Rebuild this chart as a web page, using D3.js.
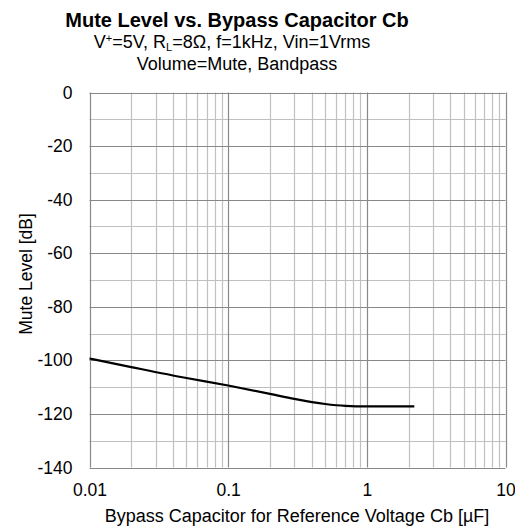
<!DOCTYPE html>
<html><head><meta charset="utf-8">
<script src="https://cdn.jsdelivr.net/npm/d3@7/dist/d3.min.js"></script>
<style>body{margin:0;background:#fff}svg{display:block}text{font-family:"Liberation Sans",Arial,sans-serif}</style>
</head><body>
<svg id="c" width="515" height="528"></svg>
<script>
const capUF = [0.01, 0.02, 0.05, 0.1, 0.2, 0.3, 0.5, 0.7, 1, 1.5, 2.2];
const muteDB = [-99.3, -102.5, -106.6, -109.4, -112.5, -114.4, -116.3, -117.0, -117.2, -117.2, -117.2];
const xTicks = [0.01, 0.1, 1, 10];
const xTickLabels = ["0.01", "0.1", "1", "10"];
const yTicks = [0, -20, -40, -60, -80, -100, -120, -140];
const yTickLabels = ["0", "-20", "-40", "-60", "-80", "-100", "-120", "-140"];

const svg = d3.select("#c");
const L = 89.5, R = 505.5, T = 92.5, B = 467.5;
const x = d3.scaleLog().domain([0.01, 10]).range([L, R]);
const y = d3.scaleLinear().domain([-140, 0]).range([B, T]);

const g = svg.append("g");
const minorX = [];
for (let d = 0.01; d < 10; d *= 10) for (let k = 2; k <= 9; k++) minorX.push(d * k);
g.selectAll(".mx").data(minorX).enter().append("line")
  .attr("x1", d => Math.round(x(d)) + 0.5).attr("x2", d => Math.round(x(d)) + 0.5)
  .attr("y1", T).attr("y2", B).attr("stroke", "#c0c0c0").attr("stroke-width", 1.2);
const minorY = d3.range(-130, 0, 20);
g.selectAll(".my").data(minorY).enter().append("line")
  .attr("x1", L).attr("x2", R)
  .attr("y1", d => Math.round(y(d)) + 0.5).attr("y2", d => Math.round(y(d)) + 0.5)
  .attr("stroke", "#c0c0c0").attr("stroke-width", 1.2);
g.selectAll(".Mx").data(xTicks).enter().append("line")
  .attr("x1", d => Math.round(x(d)) + 0.5).attr("x2", d => Math.round(x(d)) + 0.5)
  .attr("y1", T).attr("y2", B).attr("stroke", "#888").attr("stroke-width", 1.2);
g.selectAll(".My").data(yTicks).enter().append("line")
  .attr("x1", L).attr("x2", R)
  .attr("y1", d => Math.round(y(d)) + 0.5).attr("y2", d => Math.round(y(d)) + 0.5)
  .attr("stroke", "#888").attr("stroke-width", 1.2);

const FS = 17.5;
const xAxis = d3.axisBottom(x).tickValues(xTicks).tickFormat((d, i) => xTickLabels[i]).tickSize(0).tickPadding(16);
const xa = svg.append("g").attr("transform", `translate(0,${B})`).call(xAxis);
xa.select(".domain").remove();
xa.selectAll("text").attr("font-size", FS).attr("fill", "#000").style("font-family", "Liberation Sans, Arial, sans-serif");

const yAxis = d3.axisLeft(y).tickValues(yTicks).tickFormat((d, i) => yTickLabels[i]).tickSize(0).tickPadding(17);
const ya = svg.append("g").attr("transform", `translate(${L},0)`).call(yAxis);
ya.select(".domain").remove();
ya.selectAll("text").attr("font-size", FS).attr("fill", "#000").style("font-family", "Liberation Sans, Arial, sans-serif");

const line = d3.line().x((d, i) => x(capUF[i])).y(d => y(d)).curve(d3.curveMonotoneX);
svg.append("path").datum(muteDB).attr("d", line).attr("fill", "none")
  .attr("stroke", "#000").attr("stroke-width", 2.2);

svg.append("text").attr("x", 237).attr("y", 27).attr("text-anchor", "middle")
  .attr("font-size", 20).attr("font-weight", "bold").text("Mute Level vs. Bypass Capacitor Cb");
const st = svg.append("text").attr("x", 232).attr("y", 48).attr("text-anchor", "middle").attr("font-size", 18);
st.append("tspan").text("V");
st.append("tspan").attr("font-size", 11).attr("dy", -6).text("+");
st.append("tspan").attr("dy", 6).text("=5V, R");
st.append("tspan").attr("font-size", 11).attr("dy", 3).text("L");
st.append("tspan").attr("dy", -3).text("=8Ω, f=1kHz, Vin=1Vrms");
svg.append("text").attr("x", 237).attr("y", 69.5).attr("text-anchor", "middle").attr("font-size", 18)
  .text("Volume=Mute, Bandpass");

svg.append("text").attr("x", 297).attr("y", 522).attr("text-anchor", "middle").attr("font-size", 18)
  .text("Bypass Capacitor for Reference Voltage Cb [µF]");
svg.append("text").attr("transform", `translate(32,274) rotate(-90)`).attr("text-anchor", "middle")
  .attr("font-size", 17.5).text("Mute Level [dB]");
</script>
</body></html>
